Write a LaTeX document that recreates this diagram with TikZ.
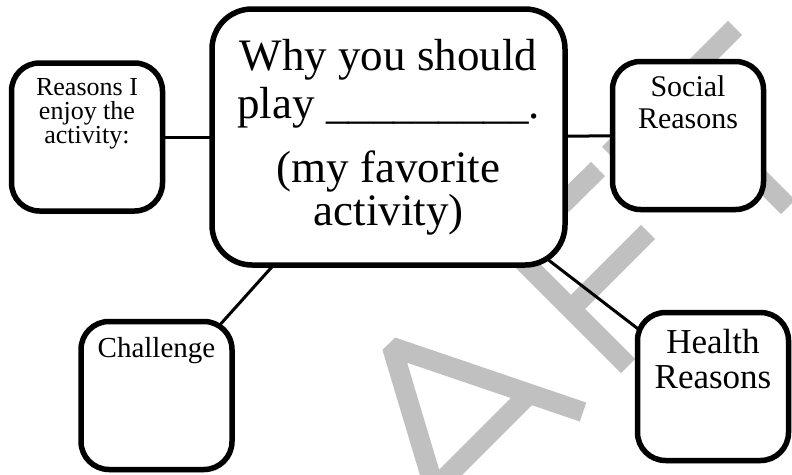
\documentclass[tikz,border=0pt]{standalone}
\usepackage{fontspec}
\setmainfont{Liberation Serif}
\usetikzlibrary{positioning, shadows}
\pgfdeclarelayer{wm}
\pgfdeclarelayer{bg}
\pgfsetlayers{wm,bg,main}
\definecolor{wmgray}{RGB}{192,192,192}

\begin{document}
\begin{tikzpicture}[x=1pt, y=-1pt,
	bubble/.style={draw, line width=5.5pt, fill=white, rounded corners=28pt, minimum width=151pt, minimum height=148pt,
		drop shadow={opacity=0.2, shadow xshift=1pt, shadow yshift=-3pt}},
	txt/.style={align=center, inner sep=0pt},
	link/.style={line width=3pt},
	ink/.style={wmgray, line width=20pt, line join=bevel}]
	
	\useasboundingbox (0,0) rectangle (792,474);
	\clip (0,0) rectangle (792,474);
	
	%//watermark letters A, F, T
	\begin{pgfonlayer}{wm}
	\draw[ink] (451,544) -- (392,347) -- (583,412);
	\draw[ink] (434,489) -- (529,394);
	\draw[ink] (628,366) -- (514,252) -- (598,169);
	\draw[ink] (571,309) -- (648,232);
	\draw[ink] (609,154) -- (735,28);
	\draw[ink] (672,91) -- (788,207);
	\end{pgfonlayer}
	
	\node [bubble, rounded corners=40pt, minimum width=353pt, minimum height=256pt, txt, font=\fontsize{45}{48}\selectfont] (main) at (388.5,137)
	{Why you should\\ play \_\_\_\_\_\_\_\_\_.\\[16pt] (my favorite\\[-5pt] activity)};
	
	\foreach \n/\x/\y in {reasons/87/137, social/688/135.5, challenge/156.5/395.5, health/713/386.5}
	\node [bubble] (\n) at (\x,\y) {};
	
	\node [txt, font=\fontsize{26}{24}\selectfont, below=18.5pt of reasons.north] (reasons-txt) {Reasons I\\enjoy the\\activity:};
	\node [txt, font=\fontsize{30}{32}\selectfont, below=16.5pt of social.north] (social-txt) {Social\\Reasons};
	\node [txt, font=\fontsize{29}{32}\selectfont, below=18pt of challenge.north] (challenge-txt) {Challenge};
	\node [txt, font=\fontsize{35}{35}\selectfont, below=19pt of health.north] (health-txt) {Health\\Reasons};
	
	\begin{pgfonlayer}{bg}
	\foreach \n in {reasons, social, challenge, health}
	\draw[link] (main.center) -- (\n.center);
	\end{pgfonlayer}
\end{tikzpicture}
\end{document}
